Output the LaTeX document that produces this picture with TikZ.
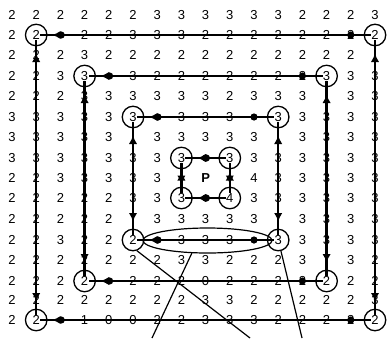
\documentclass[tikz,border=0pt]{standalone}
\usepackage{fontspec}
\setmainfont{Liberation Sans}
\usetikzlibrary{arrows.meta,decorations.markings,shapes.geometric}
\tikzset{
    val/.style={font=\fontsize{13}{13}\selectfont,inner sep=0pt},
    ring/.style={circle,draw,line width=1.3pt,minimum size=21.5pt,inner sep=0pt},
    ringval/.style={val,fill=white,inner sep=0.4pt},
    edge/.style={line width=2.4pt},
    hedge/.style={edge,postaction={decorate},decoration={markings,
        mark=at position 16pt with {\arrowreversed{Latex[length=8.5pt,width=8.5pt]}},
        mark=at position 25pt with {\fill (0,0) circle (3.6pt);},
        mark=at position -24.2pt with {\fill (0,0) circle (3.6pt);}}},
    vedge/.style={edge,postaction={decorate},decoration={markings,
        mark=at position #1 with {\arrowreversed{Latex[length=8.5pt,width=8.5pt]}},
        mark=at position -#1 with {\arrow{Latex[length=8.5pt,width=8.5pt]}}}},
    note/.style={line width=1.2pt}
}
\begin{document}
\begin{tikzpicture}[x=1pt,y=-1pt]
  \useasboundingbox (0,0) rectangle (387,338);
  % grid of values, empty where a circle or marker sits
  \foreach \vals [count=\r from 0] in {
      {2,2,2,2,2,2,3,3,3,3,3,3,2,2,2,3},
      {2,{},{},2,2,3,3,3,2,2,2,2,2,2,2,{}},
      {2,2,2,3,2,2,2,2,2,2,2,2,2,2,2,{}},
      {2,2,3,{},{},3,2,2,2,2,2,2,2,{},3,3},
      {2,2,2,3,3,3,3,3,3,2,3,3,3,{},3,3},
      {3,3,3,3,3,{},{},3,3,3,{},{},3,3,3,3},
      {3,3,3,3,3,{},3,3,3,3,3,{},3,3,3,3},
      {3,3,3,3,3,3,3,{},{},{},3,3,3,3,3,3},
      {2,2,3,3,3,3,3,{},{},{},4,3,3,3,3,3},
      {2,2,2,2,2,3,3,{},{},{},3,3,3,3,3,3},
      {2,2,2,2,2,{},3,3,3,3,3,{},3,3,3,3},
      {2,2,3,2,2,{},{},3,3,3,{},{},3,3,3,3},
      {2,2,2,2,2,2,2,3,3,2,2,2,3,{},3,2},
      {2,2,2,{},{},2,2,2,0,2,2,2,2,{},2,2},
      {2,2,2,2,2,2,2,2,3,3,2,2,2,2,2,3},
      {2,{},{},1,0,0,2,2,3,3,3,2,2,2,2,{}}} {
    \pgfmathsetmacro\yy{{15,35,55,76,96,117,137,158,178,198,219,240,260,281,300,320}[\r]}
    \foreach \v [count=\c from 0] in \vals {
      \node[val] (n\r-\c) at ({12+24.2*\c},\yy) {\v};
    }
  }
  \node[val,font=\fontsize{13}{13}\selectfont\bfseries] (P) at (n8-8) {P};
  % rings of circles
  \node[ring] (c1tl) at (n1-1) {};
  \node[ring] (c1tr) at (n1-15) {};
  \node[ring] (c1bl) at (n15-1) {};
  \node[ring] (c1br) at (n15-15) {};
  \node[ring] (c2tl) at (n3-3) {};
  \node[ring] (c2tr) at (n3-13) {};
  \node[ring] (c2bl) at (n13-3) {};
  \node[ring] (c2br) at (n13-13) {};
  \node[ring] (c3tl) at (n5-5) {};
  \node[ring] (c3tr) at (n5-11) {};
  \node[ring] (c3bl) at (n11-5) {};
  \node[ring] (c3br) at (n11-11) {};
  \node[ring] (c4tl) at (n7-7) {};
  \node[ring] (c4tr) at (n7-9) {};
  \node[ring] (c4bl) at (n9-7) {};
  \node[ring] (c4br) at (n9-9) {};
  % horizontal edges
  \draw[hedge] (c1tl.center) -- (c1tr.center);
  \draw[hedge] (c1bl.center) -- (c1br.center);
  \draw[hedge] (c2tl.center) -- (c2tr.center);
  \draw[hedge] (c2bl.center) -- (c2br.center);
  \draw[hedge] (c3tl.center) -- (c3tr.center);
  \draw[hedge] (c3bl.center) -- (c3br.center);
  \draw[hedge] (c4tl.center) -- (c4tr.center);
  \draw[hedge] (c4bl.center) -- (c4br.center);
  % vertical edges
  \draw[vedge=18.5pt] (c1tl.center) -- (c1bl.center);
  \draw[vedge=18.5pt] (c1tr.center) -- (c1br.center);
  \draw[vedge=18.5pt] (c2tl.center) -- (c2bl.center);
  \draw[vedge=18.5pt] (c2tr.center) -- (c2br.center);
  \draw[vedge=18.5pt] (c3tl.center) -- (c3bl.center);
  \draw[vedge=18.5pt] (c3tr.center) -- (c3br.center);
  \draw[vedge=14pt] (c4tl.center) -- (c4bl.center);
  \draw[vedge=14pt] (c4tr.center) -- (c4br.center);
  % values in the circles
  \node[ringval] (v1tl) at (c1tl) {2};
  \node[ringval] (v1tr) at (c1tr) {2};
  \node[ringval] (v1bl) at (c1bl) {2};
  \node[ringval] (v1br) at (c1br) {2};
  \node[ringval] (v2tl) at (c2tl) {3};
  \node[ringval] (v2tr) at (c2tr) {3};
  \node[ringval] (v2bl) at (c2bl) {2};
  \node[ringval] (v2br) at (c2br) {2};
  \node[ringval] (v3tl) at (c3tl) {3};
  \node[ringval] (v3tr) at (c3tr) {3};
  \node[ringval] (v3bl) at (c3bl) {2};
  \node[ringval] (v3br) at (c3br) {3};
  \node[ringval] (v4tl) at (c4tl) {3};
  \node[ringval] (v4tr) at (c4tr) {3};
  \node[ringval] (v4bl) at (c4bl) {3};
  \node[ringval] (v4br) at (c4br) {4};
  % ellipse and pointer lines
  \node[ellipse,draw,note,minimum width=129pt,minimum height=25pt,inner sep=0pt] (ell) at (207.5,240.5) {};
  \coordinate (footA) at (250,338);
  \coordinate (footB) at (152,338);
  \coordinate (footC) at (302,338);
  \draw[note] (c3bl.-70) -- (footA);
  \draw[note] (ell.-141) -- (footB);
  \draw[note] (c3br.-76) -- (footC);
\end{tikzpicture}
\end{document}
